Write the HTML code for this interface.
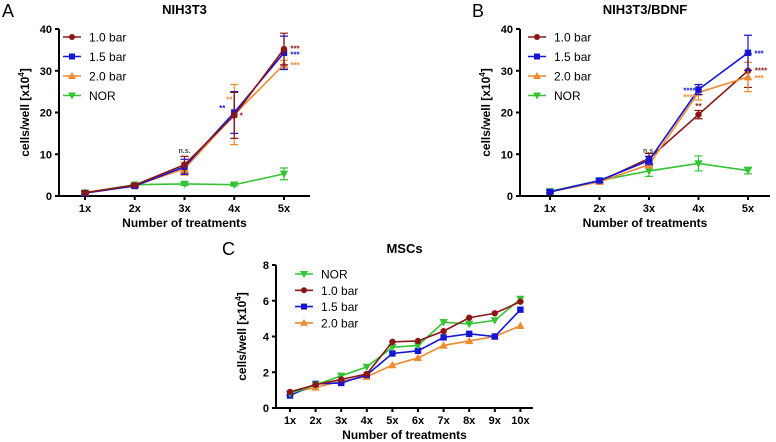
<!DOCTYPE html>
<html><head><meta charset="utf-8"><style>
body{margin:0;background:#fff;}
svg{display:block;font-family:"Liberation Sans",Arial,sans-serif;}
</style></head><body>
<svg id="s" width="776" height="442" viewBox="0 0 776 442"></svg>
<script>
// Panel A data (NIH3T3)
const catsA = ["1x","2x","3x","4x","5x"];
const a10 = [0.8,2.6,7.5,19.3,35.2], a10e=[0.3,0.3,2.0,5.5,3.8];
const a15 = [0.7,2.4,7.0,20.0,34.3], a15e=[0.3,0.3,1.8,5.0,4.0];
const a20 = [0.8,2.5,6.5,19.5,31.5], a20e=[0.3,0.3,1.5,7.2,1.0];
const aNOR = [0.8,2.7,2.9,2.7,5.3], aNORe=[0.2,0.3,0.4,0.3,1.4];
const ticksAB = [0,10,20,30,40];
// Panel B data (NIH3T3/BDNF)
const b10 = [1.0,3.5,9.0,19.5,30.0], b10e=[0.3,0.4,1.2,1.0,4.0];
const b15 = [1.0,3.7,8.5,25.5,34.3], b15e=[0.3,0.4,1.0,1.2,4.2];
const b20 = [1.0,3.4,7.5,24.8,28.5], b20e=[0.3,0.4,0.8,1.8,3.5];
const bNOR = [1.1,3.7,6.0,7.8,6.1], bNORe=[0.3,0.4,1.3,1.8,0.8];
// Panel C data (MSCs)
const catsC = ["1x","2x","3x","4x","5x","6x","7x","8x","9x","10x"];
const cNOR = [0.8,1.3,1.8,2.3,3.4,3.5,4.8,4.7,4.9,6.1];
const c10 = [0.9,1.3,1.6,1.9,3.7,3.75,4.3,5.05,5.3,5.95];
const c15 = [0.7,1.35,1.4,1.85,3.05,3.2,3.95,4.15,4.0,5.5];
const c20 = [0.85,1.15,1.5,1.75,2.4,2.8,3.5,3.75,4.0,4.6];
const ticksC = [0,2,4,6,8];

const C = {r:"#8c1515",b:"#1515d8",o:"#f08a30",g:"#33c433"};
const S = document.getElementById('s');
const NS = "http://www.w3.org/2000/svg";
function el(tag, at, parent){const e=document.createElementNS(NS,tag);for(const k in at)e.setAttribute(k,at[k]);(parent||S).appendChild(e);return e;}
function txt(x,y,t,at,parent){const e=el('text',Object.assign({x:x,y:y},at),parent);e.textContent=t;return e;}
function marker(g,shape,x,y,col,sz){
  let m;
  if(shape==='c') m=el('circle',{cx:x,cy:y,r:sz,fill:col},g);
  else if(shape==='s') m=el('rect',{x:x-sz,y:y-sz,width:2*sz,height:2*sz,fill:col},g);
  else if(shape==='t') m=el('polygon',{points:`${x},${y-sz-1} ${x-sz-1},${y+sz} ${x+sz+1},${y+sz}`,fill:col},g);
  else m=el('polygon',{points:`${x},${y+sz+1} ${x-sz-1},${y-sz} ${x+sz+1},${y-sz}`,fill:col},g);
  
  
}
function panel(o){
  const g=el('g',{});
  
  
  const ymax=o.ticks[o.ticks.length-1];
  const X=i=>o.x0+i*o.dx, Y=v=>o.yb-(v/ymax)*(o.yb-o.yt);
  // axes
  const ax=el('path',{d:`M${o.ax},${o.yt} V${o.yb} H${o.axr}`,stroke:"#000","stroke-width":2,fill:"none"},g);
  
  o.ticks.forEach(t=>{el('line',{x1:o.ax-4,x2:o.ax,y1:Y(t),y2:Y(t),stroke:"#000","stroke-width":2},g);
    const l=txt(o.ax-7,Y(t)+4,t,{"text-anchor":"end","font-size":11,"font-weight":"bold"},g);
    });
  o.cats.forEach((c,i)=>{el('line',{x1:X(i),x2:X(i),y1:o.yb,y2:o.yb+4,stroke:"#000","stroke-width":2},g);
    const l=txt(X(i),o.yb+16,c,{"text-anchor":"middle","font-size":11,"font-weight":"bold"},g);
    });
  const xt=txt((o.ax+o.axr)/2,o.yb+31,"Number of treatments",{"text-anchor":"middle","font-size":12,"font-weight":"bold"},g);
  
  const yc=(o.yt+o.yb)/2, yx=o.ax-30;
  const yt=el('text',{x:yx,y:yc,"text-anchor":"middle","font-size":12,"font-weight":"bold",transform:`rotate(-90 ${yx} ${yc})`},g);
  yt.innerHTML='cells/well [x10<tspan dy="-5" font-size="8">4</tspan><tspan dy="5">]</tspan>';
  
  const tt=txt((o.ax+o.axr)/2,o.ty,o.title,{"text-anchor":"middle","font-size":13,"font-weight":"bold"},g);
  
  const pl=txt(o.px,o.py,o.plabel,{"font-size":18},g);
  
  o.series.forEach(s=>{
    const sg=el('g',{},g);
    
    
    const d=s.v.map((v,i)=>(i?'L':'M')+X(i)+','+Y(v)).join(' ');
    el('path',{d:d,stroke:s.c,"stroke-width":1.6,fill:"none"},sg);
    if(s.e) s.v.forEach((v,i)=>{const x=X(i),t=Y(v+s.e[i]),b=Y(v-s.e[i]);
      el('path',{d:`M${x},${t}V${b}M${x-4},${t}H${x+4}M${x-4},${b}H${x+4}`,stroke:s.c,"stroke-width":1.2},sg);});
    s.v.forEach((v,i)=>marker(sg,s.m,X(i),Y(v),s.c,o.ms));
  });
  o.series.slice().sort((a,b)=>a.lo-b.lo).forEach((s,k)=>{
    const ly=o.ly+k*o.lh, lg=el('g',{},g);
    
    el('line',{x1:o.lx,x2:o.lx+18,y1:ly,y2:ly,stroke:s.c,"stroke-width":1.6},lg);
    marker(lg,s.m,o.lx+9,ly,s.c,3);
    txt(o.lx+26,ly+4.5,s.label,{"font-size":12},lg);
  });
  (o.stars||[]).forEach(st=>{const l=txt(X(st[0])+st[1],Y(st[2]),st[3],{"font-size":st[5]||8,fill:st[4],"font-weight":"bold","text-anchor":"middle"},g);
    });
}
panel({name:'chart-nih3t3',title:'NIH3T3',plabel:'A',px:2,py:17,ty:14,cats:catsA,ticks:ticksAB,ax:59,axr:310,x0:85,dx:49.75,yt:29,yb:196,ms:3.2,lx:63,ly:37,lh:19.5,
 series:[{label:'NOR',v:aNOR,e:aNORe,c:C.g,m:'v',lo:3},{label:'2.0 bar',v:a20,e:a20e,c:C.o,m:'t',lo:2},{label:'1.5 bar',v:a15,e:a15e,c:C.b,m:'s',lo:1},{label:'1.0 bar',v:a10,e:a10e,c:C.r,m:'c',lo:0}],
 stars:[[2,0,10.3,'n.s.','#444',7],[3,-5,22.4,'**',C.o],[3,-12,20.3,'**',C.b],[3,7,18.6,'*',C.r],[4,11,34.6,'***',C.r],[4,11,33.2,'***',C.b],[4,11,30.6,'***',C.o]]});
panel({name:'chart-nih3t3-bdnf',title:'NIH3T3/BDNF',plabel:'B',px:472,py:17,ty:14,cats:catsA,ticks:ticksAB,ax:520,axr:770,x0:550,dx:49.5,yt:29,yb:196,ms:3.2,lx:528,ly:37,lh:19.5,
 series:[{label:'NOR',v:bNOR,e:bNORe,c:C.g,m:'v',lo:3},{label:'1.0 bar',v:b10,e:b10e,c:C.r,m:'c',lo:0},{label:'2.0 bar',v:b20,e:b20e,c:C.o,m:'t',lo:2},{label:'1.5 bar',v:b15,e:b15e,c:C.b,m:'s',lo:1}],
 stars:[[2,0,10.3,'n.s.','#444',7],[3,-9,24.6,'****',C.b],[3,-9,23.0,'****',C.o],[3,0,20.8,'**',C.r],[4,11,33.4,'***',C.b],[4,13,29.3,'****',C.r],[4,11,27.6,'***',C.o]]});
panel({name:'chart-mscs',title:'MSCs',plabel:'C',px:222,py:255,ty:253,cats:catsC,ticks:ticksC,ax:276,axr:533,x0:290,dx:25.6,yt:265,yb:408,ms:3.2,lx:295,ly:274,lh:16.3,
 series:[{label:'2.0 bar',v:c20,c:C.o,m:'t',lo:3},{label:'1.5 bar',v:c15,c:C.b,m:'s',lo:2},{label:'NOR',v:cNOR,c:C.g,m:'v',lo:0},{label:'1.0 bar',v:c10,c:C.r,m:'c',lo:1}]});
</script>
</body></html>
